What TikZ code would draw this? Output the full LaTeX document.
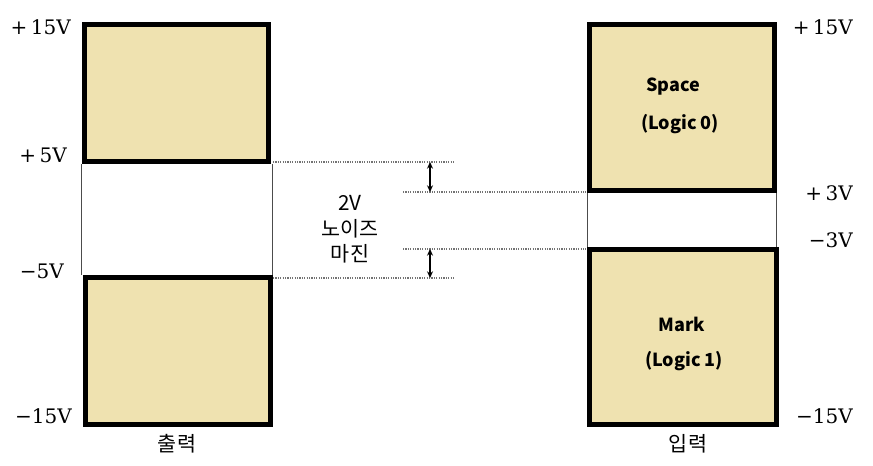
\documentclass[tikz,border=0pt]{standalone}
\usepackage{fontspec}
\newfontfamily\kr{Noto Sans CJK KR}
\newfontfamily\vserif{DejaVu Serif}
\usetikzlibrary{fit,arrows.meta}
\definecolor{zonefill}{HTML}{EFE2B0}
\tikzset{
  zone/.style={draw=black, line width=3.75pt, fill=zonefill, inner sep=0pt},
  gapline/.style={draw=black!70, line width=0.8pt},
  guide/.style={draw=black!55, line width=1.2pt, dash pattern=on 0.9pt off 0.9pt},
  margin/.style={draw=black, line width=0.8pt, {Stealth[length=5pt,width=4.5pt]}-{Stealth[length=5pt,width=4.5pt]}},
  volt/.style={font=\vserif\fontsize{15}{17}\selectfont, inner sep=0pt},
  ktext/.style={font=\kr\fontsize{15.5}{17}\selectfont, inner sep=0pt},
  ltext/.style={font=\kr\bfseries\fontsize{13.5}{16}\selectfont, inner sep=0pt}
}
\begin{document}
\begin{tikzpicture}[x=0.75pt, y=-0.75pt]
\useasboundingbox (0,0) rectangle (873,465);
% boxes
\node[zone, fit={(84.5,24.5)(268.5,161.5)}] (otop) {};
\node[zone, fit={(85.5,277.5)(270,424.5)}] (obot) {};
\node[zone, fit={(589.5,24.5)(774.5,190)}] (itop) {};
\node[zone, fit={(589,249.5)(776,424.5)}] (ibot) {};
% gap sides
\draw[gapline] ([xshift=-0.5pt]otop.south west) -- ([xshift=-0.5pt]otop.south west |- obot.north);
\draw[gapline] ([xshift=1pt]otop.south east) -- ([xshift=1pt]otop.south east |- obot.north);
\draw[gapline] ([xshift=0.5pt]itop.south west) -- ([xshift=0.5pt]itop.south west |- ibot.north);
\draw[gapline] ([xshift=-0.5pt]itop.south east) -- ([xshift=-0.5pt]itop.south east |- ibot.north);
% guide lines
\coordinate (g1a) at (273,162); \coordinate (g1b) at (455,162);
\coordinate (g2a) at (403,192); \coordinate (g2b) at (586,192);
\coordinate (g3a) at (403,249); \coordinate (g3b) at (586,249);
\coordinate (g4a) at (273,278); \coordinate (g4b) at (455,278);
\draw[guide] (g1a) -- (g1b);
\draw[guide] (g2a) -- (g2b);
\draw[guide] (g3a) -- (g3b);
\draw[guide] (g4a) -- (g4b);
\coordinate (m1a) at (430,162); \coordinate (m1b) at (430,192);
\coordinate (m2a) at (430,249); \coordinate (m2b) at (430,278);
\draw[margin] (m1a) -- (m1b);
\draw[margin] (m2a) -- (m2b);
% middle text
\node[ktext] (t2v) at (350,203) {2V};
\node[ktext] (tnoise) at (350,229) {노이즈};
\node[ktext] (tmargin) at (350,254) {마진};
% voltage labels
\node[volt, anchor=east] (l15) at (71,27) {+\,15V};
\node[volt, anchor=east] (l5) at (67,155) {+\,5V};
\node[volt, anchor=east] (lm5) at (64,271) {−5V};
\node[volt, anchor=east] (lm15) at (72,416) {−15V};
\node[volt, anchor=east] (r15) at (853,27) {+\,15V};
\node[volt, anchor=east] (r3) at (853,193) {+\,3V};
\node[volt, anchor=east] (rm3) at (853,240) {−3V};
\node[volt, anchor=east] (rm15) at (853,416) {−15V};
% box texts
\node[ltext] (space) at (673,87) {Space};
\node[ltext] (logic0) at (680,124) {(Logic 0)};
\node[ltext] (mark) at (682,324) {Mark};
\node[ltext] (logic1) at (684,361) {(Logic 1)};
% captions
\node[ktext] (out) at (177,444) {출력};
\node[ktext] (in) at (688,444) {입력};
\end{tikzpicture}
\end{document}
